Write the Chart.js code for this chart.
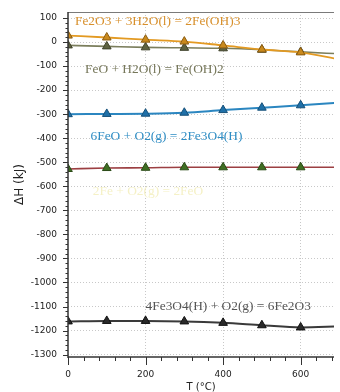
<!DOCTYPE html>
<html lang="en">
<head>
    <meta charset="UTF-8">
    <title>Delta H vs T</title>
    <script src="https://cdn.jsdelivr.net/npm/chart.js"></script>
    <style>
        body {
            margin: 0;
            padding: 0;
            background: #ffffff;
        }
        .wrap {
            width: 340px;
            height: 392px;
            position: relative;
        }
    </style>
</head>
<body>
    <div class="wrap">
        <canvas id="dhChart"></canvas>
    </div>

    <script>
        // temperature (°C) and delta H (kJ) for each reaction
        const temps = [0, 100, 200, 300, 400, 500, 600, 700];
        const fe2o3Hydration = [27, 19, 10, 2, -14, -31, -43, -72];
        const feoHydration = [-14, -18, -22, -24, -26, -32, -41, -49];
        const feoOxidation = [-300, -299, -298, -294, -283, -273, -263, -252];
        const feOxidation = [-528, -524, -523, -521, -521, -521, -521, -521];
        const magnetiteOxidation = [-1162, -1160, -1160, -1162, -1168, -1178, -1187, -1183];

        const reactionNames = [
            "Fe2O3 + 3H2O(l) = 2Fe(OH)3",
            "FeO + H2O(l) = Fe(OH)2",
            "6FeO + O2(g) = 2Fe3O4(H)",
            "2Fe + O2(g) = 2FeO",
            "4Fe3O4(H) + O2(g) = 6Fe2O3"
        ];

        const xTicks = [0, 200, 400, 600];
        const yTicks = [100, 0, -100, -200, -300, -400, -500, -600, -700, -800, -900, -1000, -1100, -1200, -1300];

        function pts(vals) {
            return temps.map((t, i) => ({ x: t, y: vals[i] }));
        }

        // where the reaction labels sit (in data units) and their colour
        const notes = [
            { text: reactionNames[0], x: 18, y: 86, color: "#d8902c" },
            { text: reactionNames[1], x: 44, y: -114, color: "#76775a" },
            { text: reactionNames[2], x: 58, y: -391, color: "#2f8dc4" },
            { text: reactionNames[3], x: 64, y: -620, color: "#f5f1c6" },
            { text: reactionNames[4], x: 200, y: -1098, color: "#555555" }
        ];

        const notesPlugin = {
            id: "notes",
            afterDatasetsDraw(chart) {
                const { ctx, scales: { x, y } } = chart;
                ctx.save();
                ctx.font = "13.4px 'Liberation Serif'";
                ctx.textBaseline = "middle";
                ctx.textAlign = "left";
                notes.forEach(n => {
                    ctx.fillStyle = n.color;
                    ctx.fillText(n.text, x.getPixelForValue(n.x), y.getPixelForValue(n.y));
                });
                ctx.restore();
            }
        };

        // axis lines, top border and major / minor tick marks
        const axesPlugin = {
            id: "axes",
            afterDatasetsDraw(chart) {
                const { ctx, chartArea: a, scales: { x, y } } = chart;
                const line = (x1, y1, x2, y2) => {
                    ctx.beginPath();
                    ctx.moveTo(x1, y1);
                    ctx.lineTo(x2, y2);
                    ctx.stroke();
                };
                ctx.save();
                ctx.strokeStyle = "#7a7a7a";
                ctx.lineWidth = 1;
                line(a.left, a.top + 0.5, a.right, a.top + 0.5);

                ctx.strokeStyle = "#333";
                ctx.lineWidth = 1.5;
                line(a.left, a.top, a.left, a.bottom + 1);
                line(a.left, a.bottom, a.right, a.bottom);

                ctx.lineWidth = 1;
                for (let v = -1300; v <= 100; v += 20) {
                    const py = Math.round(y.getPixelForValue(v)) + 0.5;
                    const len = v % 100 === 0 ? 5 : 2.5;
                    line(a.left - len, py, a.left, py);
                }
                for (let t = 0; t <= x.max; t += 40) {
                    const px = Math.round(x.getPixelForValue(t)) + 0.5;
                    const len = t % 200 === 0 ? 8 : 4;
                    line(px, a.bottom, px, a.bottom + len);
                }
                ctx.restore();
            }
        };

        const series = [
            { data: fe2o3Hydration, line: "#e39a22", fill: "#c9891c", edge: "#8a5c12", width: 1.8 },
            { data: feoHydration, line: "#7b7e5c", fill: "#5e6240", edge: "#3f422a", width: 1.6 },
            { data: feoOxidation, line: "#2b86c0", fill: "#1f70a8", edge: "#154f78", width: 2 },
            { data: feOxidation, line: "#9c3f42", fill: "#3f6e22", edge: "#2a4a16", width: 1.6 },
            { data: magnetiteOxidation, line: "#3a3a3a", fill: "#2a2a2a", edge: "#111", width: 2 }
        ];

        const ctx = document.getElementById("dhChart").getContext("2d");
        new Chart(ctx, {
            type: "line",
            data: {
                datasets: series.map((s, i) => ({
                    label: reactionNames[i],
                    data: pts(s.data),
                    borderColor: s.line,
                    borderWidth: s.width,
                    backgroundColor: s.fill,
                    pointStyle: "triangle",
                    pointRadius: 5,
                    pointBackgroundColor: s.fill,
                    pointBorderColor: s.edge,
                    pointBorderWidth: 1,
                    cubicInterpolationMode: "monotone",
                    clip: 0
                }))
            },
            options: {
                responsive: true,
                maintainAspectRatio: false,
                animation: false,
                layout: { padding: { top: 12, right: 0, left: 0, bottom: 0 } },
                plugins: {
                    legend: { display: false },
                    tooltip: { enabled: false }
                },
                scales: {
                    x: {
                        type: "linear",
                        min: 0,
                        max: 686,
                        afterBuildTicks: s => { s.ticks = xTicks.map(v => ({ value: v })); },
                        afterFit: s => {
                            s.height = 35;
                            s.paddingLeft = 0;
                            s.paddingRight = 0;
                        },
                        ticks: {
                            color: "#222",
                            font: { family: "'DejaVu Sans'", size: 9 },
                            padding: 12,
                            maxRotation: 0,
                            callback: v => String(v)
                        },
                        grid: {
                            drawTicks: false,
                            color: c => c.tick && c.tick.value === 0 ? "rgba(0,0,0,0)" : "#c8c8c8"
                        },
                        border: { display: false, dash: [1, 2] },
                        title: {
                            display: true,
                            text: "T (°C)",
                            color: "#222",
                            font: { family: "'DejaVu Sans'", size: 10, lineHeight: 1 },
                            padding: { top: 0, bottom: 0 }
                        }
                    },
                    y: {
                        min: -1310,
                        max: 125,
                        afterBuildTicks: s => { s.ticks = yTicks.map(v => ({ value: v })); },
                        afterFit: s => {
                            s.width = 68;
                            s.paddingTop = 0;
                            s.paddingBottom = 0;
                        },
                        ticks: {
                            color: "#222",
                            font: { family: "'DejaVu Sans'", size: 9 },
                            padding: 11,
                            callback: v => String(v)
                        },
                        grid: {
                            drawTicks: false,
                            color: "#c8c8c8"
                        },
                        border: { display: false, dash: [1, 2] },
                        title: {
                            display: true,
                            text: "ΔH (kJ)",
                            color: "#222",
                            font: { family: "'DejaVu Sans'", size: 12 },
                            padding: { top: 13, bottom: 0 }
                        }
                    }
                }
            },
            plugins: [axesPlugin, notesPlugin]
        });
    </script>
</body>
</html>
